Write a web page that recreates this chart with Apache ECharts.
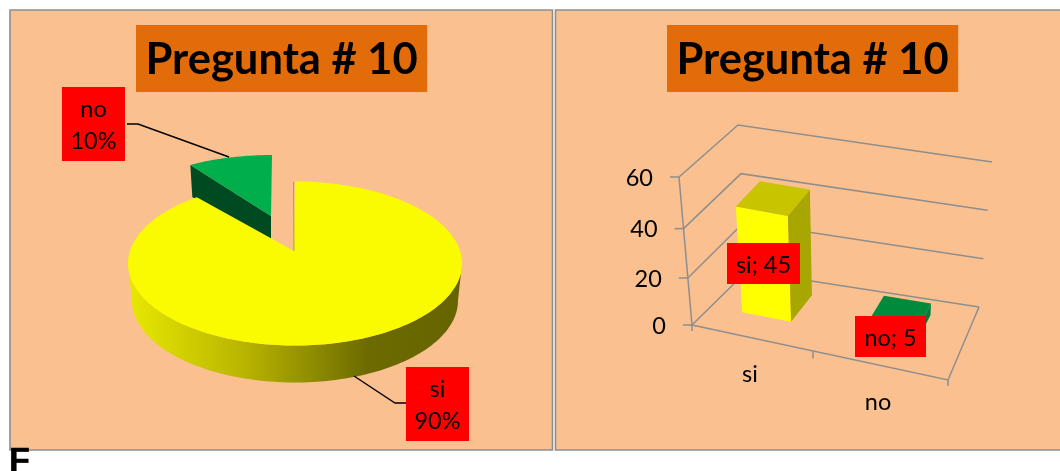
<!DOCTYPE html>
<html><head><meta charset="utf-8">
<style>html,body{margin:0;padding:0;background:#fff}#c{width:1060px;height:471px}</style>
<script src="https://cdn.jsdelivr.net/npm/echarts@6/dist/echarts.min.js"></script>
</head><body><div id="c"></div>
<script>
const titleText = 'Pregunta # 10';
const categories = ['si', 'no'];
const piePercents = [90, 10];
const barValues = [45, 5];
const yTicks = [0, 20, 40, 60];

const FONT = 'Lato, Carlito, "Open Sans", sans-serif';
const GRAY = '#8e8e8e';
const chart = echarts.init(document.getElementById('c'), null, {renderer: 'canvas'});

function arc(cx, cy, rx, ry, a0, a1) {
  const pts = [], n = Math.max(2, Math.ceil(Math.abs(a1 - a0) / 1.5));
  for (let i = 0; i <= n; i++) {
    const t = (a0 + (a1 - a0) * i / n) * Math.PI / 180;
    pts.push([cx + rx * Math.sin(t), cy - ry * Math.cos(t)]);
  }
  return pts;
}
function tag(x, y, w, h, text, lh) {
  return [
    {type: 'rect', z2: 20, shape: {x, y, width: w, height: h}, style: {fill: '#ff0000'}},
    {type: 'text', z2: 21, style: {x: x + w / 2, y: y + h / 2 + 1.5, text, fill: '#000', font: '23.5px ' + FONT, lineHeight: lh, align: 'center', verticalAlign: 'middle'}}
  ];
}

function renderPie(params, api) {
  const i = params.dataIndex, pct = api.value(0);
  const name = categories[i];
  const sweep = pct * 3.6;
  const ch = [];
  if (i === 0) {
    const cx = 295, cy = 263.5, rx = 167, ry = 82;
    const rimTop = arc(cx, cy, rx, ry, 90, 270);
    const rimBot = arc(cx, cy + 37, rx - 4, ry, 270, 90);
    ch.push({type: 'polygon', z2: 2, shape: {points: rimTop.concat(rimBot)},
      style: {fill: new echarts.graphic.LinearGradient(128, 0, 462, 0, [
        {offset: 0, color: '#e8e800'}, {offset: 0.35, color: '#b8b400'},
        {offset: 0.72, color: '#6c6a00'}, {offset: 1, color: '#666400'}], true)}});
    const top = [[294, 251]].concat(arc(cx, cy, rx, ry, 0, sweep));
    ch.push({type: 'polygon', z2: 3, shape: {points: top}, style: {fill: '#fbfb00'}});
    ch.push({type: 'line', z2: 4, shape: {x1: 294, y1: 251, x2: 293.5, y2: 182}, style: {stroke: '#8f8f3a', lineWidth: 0.7}});
    ch.push({type: 'polyline', z2: 10, shape: {points: [[354, 376], [395, 403], [406, 403]]}, style: {stroke: '#000', lineWidth: 1.4, fill: 'none'}});
    ch.push(...tag(406, 367, 63, 74, name + '\n' + pct + '%', 32));
  } else {
    const cx = 272, cy = 207, rx = 139, ry = 52, d = 32;
    const a = arc(cx, cy, rx, ry, 360 - sweep, 360);
    const apex = [271, 216];
    ch.push({type: 'polygon', z2: 0, shape: {points: [a[0], apex, [apex[0], apex[1] + d], [a[0][0] + 2, a[0][1] + d]]}, style: {fill: '#004a22'}});
    ch.push({type: 'polygon', z2: 1, shape: {points: [apex].concat(a)}, style: {fill: '#00ae4c'}});
    ch.push({type: 'polyline', z2: 10, shape: {points: [[127, 124], [138, 124], [229, 157]]}, style: {stroke: '#000', lineWidth: 1.4, fill: 'none'}});
    ch.push(...tag(62, 87, 63, 74, name + '\n' + pct + '%', 32));
  }
  return {type: 'group', children: ch};
}

// oblique projection of the plain cartesian grid: u in category bands, h in px above zero, d in depth 0..1
const G = {left: 692, top: 177, bandW: 128, h: 148};
function lerp(a, b, t) { return a + (b - a) * t; }
function project(u, h, d) {
  const t = u / 2;
  const fx = lerp(692, 948, t), fy = lerp(325, 380, t);
  const bx = lerp(747, 979, t), by = lerp(271, 307, t);
  const hx0 = lerp(-13, 9, t), hx1 = lerp(-9, 13, t);
  const hy0 = lerp(-148, -147, t), hy1 = lerp(-146, -145, t);
  let k = h / G.h;
  k = k - 0.07 * k * (1 - k) * (1 - d);   // slight foreshortening toward the viewer
  return [lerp(fx, bx, d) + lerp(hx0, hx1, d) * k, lerp(fy, by, d) + lerp(hy0, hy1, d) * k];
}
function toUH(api, cat, val) {
  const p = api.coord([cat, val]);
  return [(p[0] - G.left) / G.bandW, G.top + G.h - p[1]];
}

function renderFrame(params, api) {
  const v = api.value(1);
  const [, h] = toUH(api, 0, v);
  const ch = [];
  const a = project(0, h, 0), b = project(0, h, 1), c = project(2, h, 1);
  ch.push({type: 'polyline', shape: {points: [a, b, c]}, style: {stroke: GRAY, lineWidth: 1.5, fill: 'none'}});
  ch.push({type: 'line', shape: {x1: a[0] - 9, y1: a[1], x2: a[0], y2: a[1]}, style: {stroke: GRAY, lineWidth: 1.5}});
  ch.push({type: 'text', style: {x: a[0] - 26, y: a[1] + 1, text: String(v), fill: '#000', font: '23.5px ' + FONT, align: 'right', verticalAlign: 'middle'}});
  if (params.dataIndex === 0) {
    const fr = project(2, 0, 0);
    ch.push({type: 'polyline', shape: {points: [a, fr, c]}, style: {stroke: GRAY, lineWidth: 1.5, fill: 'none'}});
    const top = project(0, G.h, 0);
    ch.push({type: 'line', shape: {x1: top[0], y1: top[1], x2: a[0], y2: a[1]}, style: {stroke: GRAY, lineWidth: 1.5}});
    [[0, 0], [1, -7], [2, 0]].forEach(([u, dx]) => {
      const t = project(u, 0, 0);
      ch.push({type: 'line', shape: {x1: t[0] + dx, y1: t[1] - 1, x2: t[0] + dx, y2: t[1] + 6}, style: {stroke: GRAY, lineWidth: 1.5}});
    });
  }
  return {type: 'group', children: ch};
}

const barFaces = [
  {front: '#ffff00', side: '#a8a600', top: '#c8c400'},
  {front: '#00b050', side: '#007a38', top: '#008a3c'}
];
const barTags = [[727, 243, 73, 41], [855, 316, 71, 41]];
function renderBar(params, api) {
  const i = params.dataIndex, cat = api.value(0), val = api.value(1);
  const [uc, hFull] = toUH(api, cat, val);
  const h = hFull * 0.97;
  const u0 = uc - 0.25, u1 = uc + 0.145, d0 = 0.35, d1 = 0.79;
  const P = (u, hh, d) => project(u, hh, d);
  const f = barFaces[i], ch = [];
  ch.push({type: 'polygon', z2: 1, shape: {points: [P(u0, 0, d0), P(u1, 0, d0), P(u1, h, d0), P(u0, h, d0)]}, style: {fill: f.front}});
  ch.push({type: 'polygon', z2: 1, shape: {points: [P(u1, 0, d0), P(u1, 0, d1), P(u1, h, d1), P(u1, h, d0)]}, style: {fill: f.side}});
  ch.push({type: 'polygon', z2: 1, shape: {points: [P(u0, h, d0), P(u1, h, d0), P(u1, h, d1), P(u0, h, d1)]}, style: {fill: f.top}});
  const base = project(uc, 0, 0);
  ch.push({type: 'text', z2: 2, style: {x: base[0] - 6, y: base[1] + 36, text: categories[i], fill: '#000', font: '23.5px ' + FONT, align: 'center', verticalAlign: 'middle'}});
  const t = barTags[i];
  ch.push(...tag(t[0], t[1], t[2], t[3], categories[i] + '; ' + val, 26));
  return {type: 'group', children: ch};
}

const titleStyle = {color: '#000', fontFamily: FONT, fontWeight: 'bold', fontSize: 43.5};
const titlePad = [13, 9.5, 10, 9.5];
chart.setOption({
  animation: false,
  backgroundColor: '#ffffff',
  title: [
    {text: titleText, left: 136, top: 25, padding: titlePad, backgroundColor: '#e36c0a', textStyle: titleStyle},
    {text: titleText, left: 667, top: 25, padding: titlePad, backgroundColor: '#e36c0a', textStyle: titleStyle}
  ],
  grid: {show: false, left: G.left, top: G.top, width: G.bandW * 2, height: G.h},
  xAxis: {type: 'category', data: categories, show: false},
  yAxis: {type: 'value', min: 0, max: 60, interval: 20, show: false},
  graphic: [
    {type: 'rect', z: -1, shape: {x: 10, y: 10, width: 542.5, height: 440}, style: {fill: '#fac090', stroke: GRAY, lineWidth: 1.6}},
    {type: 'rect', z: -1, shape: {x: 555.5, y: 10, width: 510, height: 440}, style: {fill: '#fac090', stroke: GRAY, lineWidth: 1.6}},
    {type: 'text', z: 1, style: {x: 9, y: 445, text: 'F', fill: '#000', stroke: '#000', lineWidth: 0.6, font: 'bold 34px "Liberation Sans", Arial, sans-serif'}}
  ],
  series: [
    {type: 'custom', coordinateSystem: 'none', z: 2, silent: true, renderItem: renderPie, data: piePercents.map(v => [v])},
    {type: 'custom', coordinateSystem: 'cartesian2d', z: 2, silent: true, renderItem: renderFrame, encode: {x: 0, y: 1}, data: yTicks.map(v => [0, v])},
    {type: 'custom', coordinateSystem: 'cartesian2d', z: 3, silent: true, renderItem: renderBar, encode: {x: 0, y: 1}, data: barValues.map((v, i) => [i, v])}
  ]
});
</script></body></html>
